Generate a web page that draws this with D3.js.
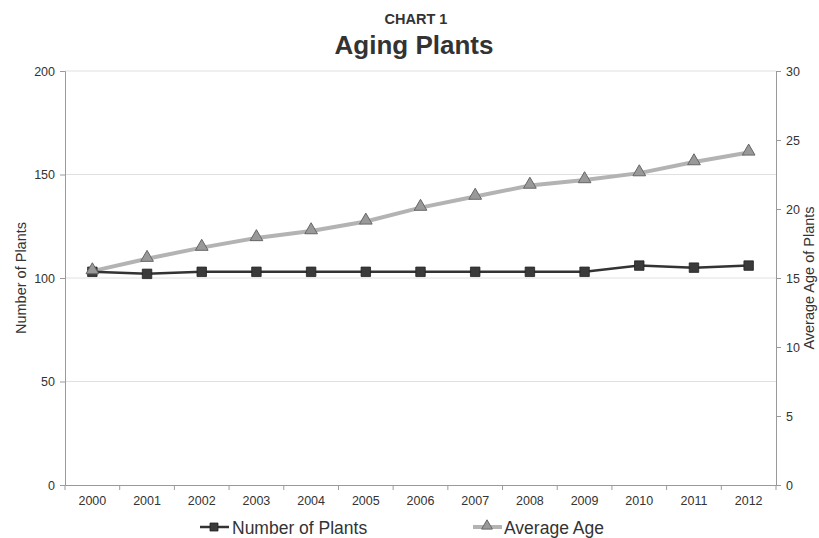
<!DOCTYPE html>
<html>
<head>
<meta charset="utf-8">
<script src="https://cdn.jsdelivr.net/npm/d3@7/dist/d3.min.js"></script>
<style>
  body { margin: 0; background: #fff; }
  svg { font-family: "Liberation Sans", Arial, Helvetica, sans-serif; }
</style>
</head>
<body>
<svg id="chart" width="819" height="538"></svg>
<script>
const years = ["2000","2001","2002","2003","2004","2005","2006","2007","2008","2009","2010","2011","2012"];
const plantCounts = [103, 102, 103, 103, 103, 103, 103, 103, 103, 103, 106, 105, 106];
const averageAges = [15.5, 16.4, 17.2, 17.9, 18.4, 19.1, 20.1, 20.9, 21.7, 22.1, 22.6, 23.4, 24.1];
const leftTicks = [0, 50, 100, 150, 200];
const rightTicks = [0, 5, 10, 15, 20, 25, 30];

const svg = d3.select("#chart");
const m = { left: 65, right: 776, top: 71, bottom: 485 };

const x = d3.scaleBand().domain(years).range([m.left, m.right]);
const yL = d3.scaleLinear().domain([0, 200]).range([m.bottom, m.top]);
const yR = d3.scaleLinear().domain([0, 30]).range([m.bottom, m.top]);
const cx = d => x(d) + x.bandwidth() / 2;

// titles
svg.append("text").attr("x", 416).attr("y", 24).attr("text-anchor", "middle")
  .attr("font-size", 14.5).attr("font-weight", "bold").attr("fill", "#333").text("CHART 1");
svg.append("text").attr("x", 414).attr("y", 54).attr("text-anchor", "middle")
  .attr("font-size", 26).attr("font-weight", "bold").attr("fill", "#333").text("Aging Plants");

// horizontal gridlines
svg.append("g").selectAll("line").data(leftTicks.filter(t => t > 0)).join("line")
  .attr("x1", m.left).attr("x2", m.right)
  .attr("y1", d => yL(d)).attr("y2", d => yL(d))
  .attr("stroke", "#e0e0e0").attr("stroke-width", 1);

// left axis
const gL = svg.append("g").attr("transform", `translate(${m.left},0)`)
  .call(d3.axisLeft(yL).tickValues(leftTicks).tickSize(5).tickPadding(5));
// right axis
const gR = svg.append("g").attr("transform", `translate(${m.right},0)`)
  .call(d3.axisRight(yR).tickValues(rightTicks).tickSize(5).tickPadding(5));
// bottom axis, tick marks sit between categories
const gB = svg.append("g").attr("transform", `translate(0,${m.bottom})`)
  .call(d3.axisBottom(x).tickSize(0).tickPadding(11));
gB.selectAll(".tick").append("line")
  .attr("x1", x.bandwidth() / 2).attr("x2", x.bandwidth() / 2)
  .attr("y1", 0).attr("y2", 5);
gB.append("line")
  .attr("x1", m.left).attr("x2", m.left).attr("y1", 0).attr("y2", 5);

[gL, gR, gB].forEach(g => {
  g.selectAll(".domain").attr("stroke", "#9a9a9a");
  g.selectAll("line").attr("stroke", "#9a9a9a");
  g.selectAll("text").attr("font-size", 12.5).attr("fill", "#333")
    .attr("font-family", "\"Liberation Sans\", Arial, sans-serif");
});

// axis titles
svg.append("text").attr("transform", `translate(26,${(m.top + m.bottom) / 2}) rotate(-90)`)
  .attr("text-anchor", "middle").attr("font-size", 14.5).attr("fill", "#333").text("Number of Plants");
svg.append("text").attr("transform", `translate(814,${(m.top + m.bottom) / 2}) rotate(-90)`)
  .attr("text-anchor", "middle").attr("font-size", 14.5).attr("fill", "#333").text("Average Age of Plants");

// Average Age series (right axis)
const ageLine = d3.line().x((d, i) => cx(years[i])).y(d => yR(d));
svg.append("path").datum(averageAges).attr("d", ageLine)
  .attr("fill", "none").attr("stroke", "#b3b3b3").attr("stroke-width", 4);

// Number of Plants series (left axis)
const countLine = d3.line().x((d, i) => cx(years[i])).y(d => yL(d));
svg.append("path").datum(plantCounts).attr("d", countLine)
  .attr("fill", "none").attr("stroke", "#333").attr("stroke-width", 2.5);

const tri = d3.symbol().type(d3.symbolTriangle).size(70);
const sq = d3.symbol().type(d3.symbolSquare).size(90);

svg.append("g").selectAll("path").data(plantCounts).join("path")
  .attr("d", sq).attr("transform", (d, i) => `translate(${cx(years[i])},${yL(d)})`)
  .attr("fill", "#3a3a3a").attr("stroke", "#222").attr("stroke-width", 0.8);

svg.append("g").selectAll("path").data(averageAges).join("path")
  .attr("d", tri).attr("transform", (d, i) => `translate(${cx(years[i])},${yR(d) - 1})`)
  .attr("fill", "#999").attr("stroke", "#666").attr("stroke-width", 1);

// legend
const leg = svg.append("g");
const legendY = 527;
leg.append("line").attr("x1", 200).attr("x2", 229).attr("y1", legendY).attr("y2", legendY)
  .attr("stroke", "#333").attr("stroke-width", 2.5);
leg.append("path").attr("d", d3.symbol().type(d3.symbolSquare).size(64)).attr("transform", `translate(214,${legendY})`)
  .attr("fill", "#3a3a3a").attr("stroke", "#222").attr("stroke-width", 0.8);
leg.append("text").attr("x", 232).attr("y", legendY + 6.5).attr("font-size", 17.5).attr("fill", "#333")
  .text("Number of Plants");
leg.append("line").attr("x1", 473).attr("x2", 502).attr("y1", legendY).attr("y2", legendY)
  .attr("stroke", "#b3b3b3").attr("stroke-width", 4);
leg.append("path").attr("d", d3.symbol().type(d3.symbolTriangle).size(50)).attr("transform", `translate(487,${legendY - 1})`)
  .attr("fill", "#999").attr("stroke", "#666").attr("stroke-width", 1);
leg.append("text").attr("x", 504).attr("y", legendY + 6.5).attr("font-size", 17.5).attr("fill", "#333")
  .text("Average Age");
</script>
</body>
</html>
